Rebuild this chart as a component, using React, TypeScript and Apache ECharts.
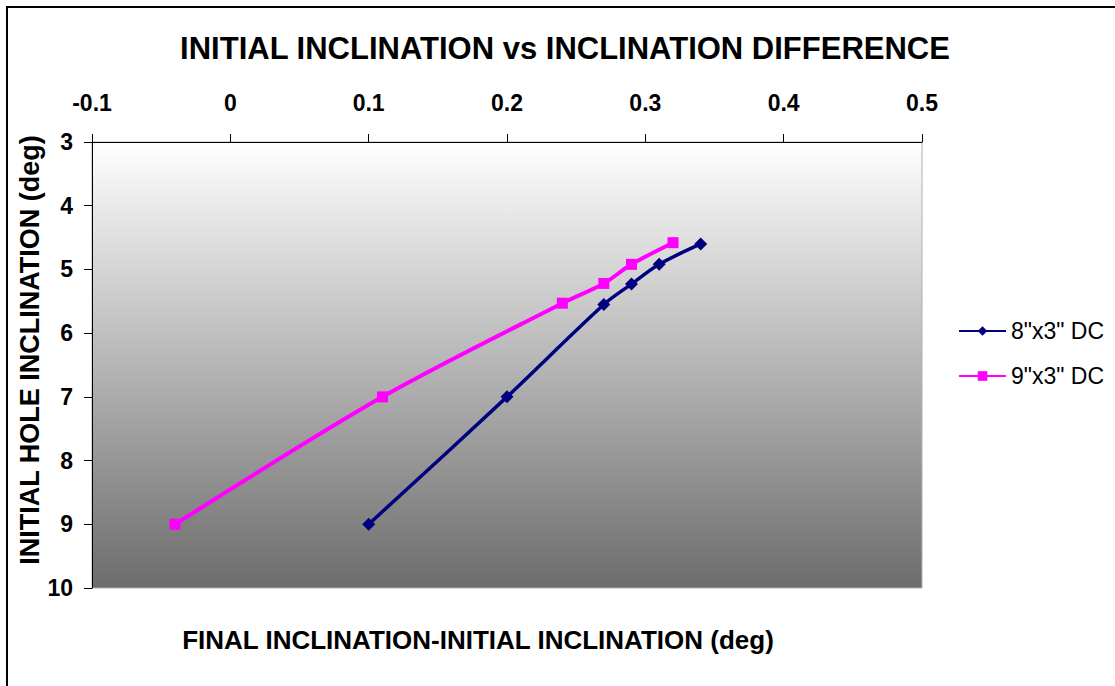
import React, { useEffect, useRef } from "react";
import * as echarts from "echarts";

const xTicks = [-0.1, 0, 0.1, 0.2, 0.3, 0.4, 0.5];
const seriesNames = ['8"x3" DC', '9"x3" DC'];
const dc8x = [0.1, 0.2, 0.27, 0.29, 0.31, 0.34];
const dc8y = [9, 7, 5.55, 5.23, 4.92, 4.6];
const dc9x = [-0.04, 0.11, 0.24, 0.27, 0.29, 0.32];
const dc9y = [9, 7, 5.53, 5.22, 4.92, 4.58];

const FONT = "Liberation Sans, Arial, sans-serif";

export default function App() {
  const ref = useRef<HTMLDivElement>(null);
  useEffect(() => {
    document.body.style.margin = "0";
    const chart = echarts.init(ref.current!, null, { renderer: "svg" });
    const pairs = (xs: number[], ys: number[]) => xs.map((x, i) => [x, ys[i]]);
    chart.setOption({
      animation: false,
      backgroundColor: "#ffffff",
      title: {
        text: "INITIAL INCLINATION vs INCLINATION DIFFERENCE",
        left: 560,
        textAlign: "center",
        top: 28,
        textStyle: { fontFamily: FONT, fontSize: 31, fontWeight: "bold", color: "#000" },
      },
      legend: {
        orient: "vertical",
        left: 953,
        top: 314,
        itemWidth: 47,
        itemHeight: 12,
        itemGap: 21,
        textStyle: { fontFamily: FONT, fontSize: 23, color: "#000", lineHeight: 24 },
        data: seriesNames,
      },
      grid: {
        left: 92,
        top: 142,
        right: 193,
        bottom: 98,
        show: true,
        borderColor: "#b0b0b0",
        borderWidth: 1,
        backgroundColor: {
          type: "linear",
          x: 0, y: 0, x2: 0, y2: 1,
          colorStops: [
            { offset: 0, color: "#ffffff" },
            { offset: 1, color: "#6c6c6c" },
          ],
        },
      },
      xAxis: {
        type: "value",
        position: "top",
        min: -0.1,
        max: 0.5,
        interval: 0.1,
        axisLine: { show: true, onZero: false, lineStyle: { color: "#000", width: 1 } },
        axisTick: { show: true, inside: false, length: 8, lineStyle: { color: "#000" } },
        splitLine: { show: false },
        axisLabel: {
          fontFamily: FONT,
          fontSize: 23,
          fontWeight: "bold",
          color: "#000",
          margin: 28,
          formatter: (v: number) => {
            const t = xTicks.find((k) => Math.abs(k - v) < 1e-9);
            return t === undefined ? "" : String(t);
          },
        },
      },
      yAxis: {
        type: "value",
        inverse: true,
        min: 3,
        max: 10,
        interval: 1,
        axisLine: { show: true, onZero: false, lineStyle: { color: "#000", width: 1 } },
        axisTick: { show: true, inside: false, length: 8, lineStyle: { color: "#000" } },
        splitLine: { show: false },
        axisLabel: {
          fontFamily: FONT,
          fontSize: 23,
          fontWeight: "bold",
          color: "#000",
          margin: 19,
        },
      },
      series: [
        {
          name: seriesNames[0],
          type: "line",
          data: pairs(dc8x, dc8y),
          smooth: 0.3,
          symbol: "diamond",
          symbolSize: 13,
          itemStyle: { color: "#000080" },
          lineStyle: { color: "#000080", width: 3.5 },
        },
        {
          name: seriesNames[1],
          type: "line",
          data: pairs(dc9x, dc9y),
          smooth: 0.3,
          symbol: "rect",
          symbolSize: 11,
          itemStyle: { color: "#ff00ff" },
          lineStyle: { color: "#ff00ff", width: 4 },
        },
      ],
      graphic: [
        {
          type: "rect",
          shape: { x: 7, y: 7, width: 1300, height: 900 },
          style: { fill: "none", stroke: "#000", lineWidth: 2 },
          silent: true,
        },
        {
          type: "text",
          x: 478,
          y: 640,
          style: {
            text: "FINAL INCLINATION-INITIAL INCLINATION (deg)",
            fontFamily: FONT,
            fontSize: 26,
            fontWeight: "bold",
            fill: "#000",
            align: "center",
            verticalAlign: "middle",
          },
        },
        {
          type: "text",
          x: 30,
          y: 350,
          rotation: Math.PI / 2,
          style: {
            text: "INITIAL HOLE INCLINATION (deg)",
            fontFamily: FONT,
            fontSize: 27,
            fontWeight: "bold",
            fill: "#000",
            align: "center",
            verticalAlign: "middle",
          },
        },
      ],
    });
    return () => chart.dispose();
  }, []);
  return <div ref={ref} style={{ width: 1115, height: 686 }} />;
}
